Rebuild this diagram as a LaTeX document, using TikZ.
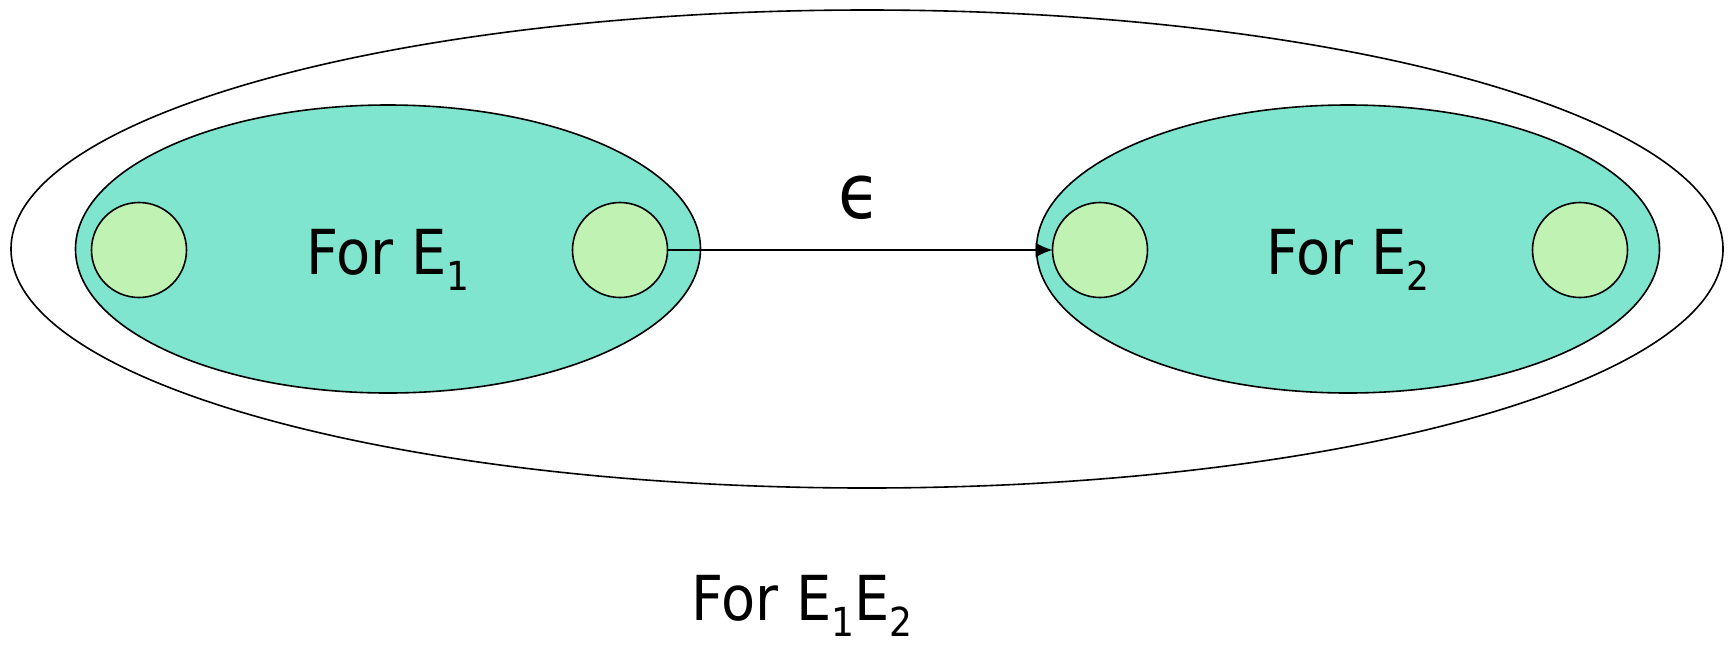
\documentclass[tikz,border=0pt]{standalone}
\usepackage{fontspec}
\setmainfont{DejaVu Sans Condensed}
\usetikzlibrary{shapes.geometric,arrows.meta}
\definecolor{tealfill}{RGB}{128,229,206}
\definecolor{statefill}{RGB}{192,242,180}
\newcommand{\lowsub}[1]{\raisebox{-8pt}{\fontsize{20}{20}\selectfont #1}}
\begin{document}
\begin{tikzpicture}[x=0.5pt, y=-0.5pt, every node/.style={inner sep=0pt, outer sep=0pt},
    blob/.style={ellipse, draw, line width=0.8pt},
    state/.style={circle, draw, fill=statefill, line width=0.8pt, minimum size=47.5pt},
    lbl/.style={anchor=base, font=\fontsize{31}{31}\selectfont},
    >={Latex[length=8.5pt, width=7.5pt]}]
    \useasboundingbox (0, 0) rectangle (1735, 644);
    \node[blob, minimum width=856pt, minimum height=239pt] (outer) at (867, 249) {};
    \node[blob, fill=tealfill, minimum width=312.5pt, minimum height=144pt] (m1) at (388, 249) {};
    \node[blob, fill=tealfill, minimum width=311.5pt, minimum height=144pt] (m2) at (1348, 249) {};
    \node[state] (s1) at (139, 250) {};
    \node[state] (f1) at (620, 250) {};
    \node[state] (s2) at (1100, 250) {};
    \node[state] (f2) at (1580, 250) {};
    \node[lbl] (t1) at (388, 274) {For E\lowsub{1}};
    \node[lbl] (t2) at (1348, 274) {For E\lowsub{2}};
    \node[lbl] (t12) at (802, 620) {For E\lowsub{1}E\lowsub{2}};
    \draw[->, line width=1pt] (f1) -- node[above=15pt, font=\fontsize{38}{38}\selectfont] (eps) {ϵ} (s2);
\end{tikzpicture}
\end{document}
